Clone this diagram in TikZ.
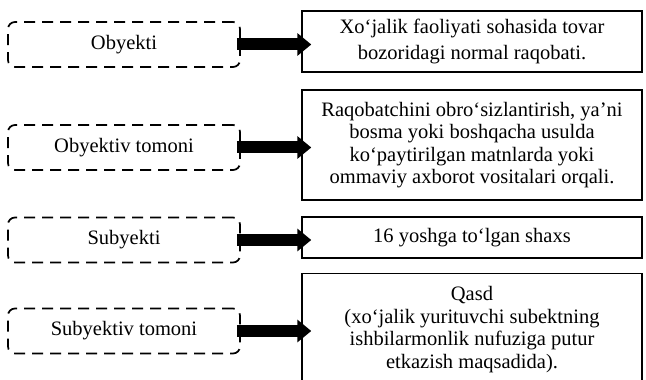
\documentclass[tikz,border=0pt]{standalone}
\usepackage{fontspec}
\setmainfont{Liberation Serif}
\usetikzlibrary{arrows.meta}
\begin{document}
\begin{tikzpicture}[x=1pt,y=1pt,
  leftbox/.style={draw, dashed, dash pattern=on 11pt off 7pt, line width=1.7pt, rounded corners=7pt,
     minimum width=232pt, minimum height=45pt, font=\fontsize{20.5}{22}\selectfont, anchor=center},
  rightbox/.style={draw, line width=1.4pt, minimum width=340pt, align=center,
     font=\fontsize{20.5}{22.5}\selectfont, inner sep=2pt},
  bigarrow/.style={line width=12pt, -{Triangle[length=14pt,width=22pt]}, shorten >=-10pt}
]
\useasboundingbox (0,0) rectangle (646,380);
% left dashed boxes
\node[leftbox] (l1) at (124,335.5) {Obyekti};
\node[leftbox] (l2) at (124,232.5) {Obyektiv tomoni};
\node[leftbox] (l3) at (124,140) {Subyekti};
\node[leftbox] (l4) at (124,49) {Subyektiv tomoni};
% right boxes
\node[rightbox, minimum height=61pt, font=\fontsize{20.5}{26}\selectfont] (r1) at (472,338.5) {Xo‘jalik faoliyati sohasida tovar\\bozoridagi normal raqobati.};
\node[rightbox, minimum height=110pt] (r2) at (472,235) {Raqobatchini obro‘sizlantirish, ya’ni\\bosma yoki boshqacha usulda\\ko‘paytirilgan matnlarda yoki\\ommaviy axborot vositalari orqali.};
\node[rightbox, minimum height=41pt] (r3) at (472,142.5) {16 yoshga to‘lgan shaxs};
\node[rightbox, minimum height=112pt, anchor=north] (r4) at (472,107) {Qasd\\(xo‘jalik yurituvchi subektning\\ishbilarmonlik nufuziga putur\\etkazish maqsadida).};
% arrows
\draw[bigarrow] ([xshift=-4pt]l1.east) -- (r1.west |- l1.east);
\draw[bigarrow] ([xshift=-4pt]l2.east) -- (r2.west |- l2.east);
\draw[bigarrow] ([xshift=-4pt]l3.east) -- (r3.west |- l3.east);
\draw[bigarrow] ([xshift=-4pt]l4.east) -- (r4.west |- l4.east);
\end{tikzpicture}
\end{document}
